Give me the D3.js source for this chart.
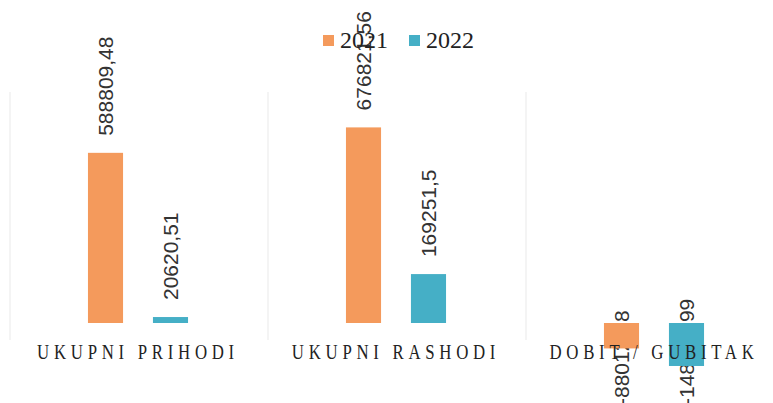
<!DOCTYPE html>
<html>
<head>
<meta charset="utf-8">
<script src="https://cdn.jsdelivr.net/npm/d3@7"></script>
<style>
  body { margin: 0; background: #fff; }
  svg { display: block; }
</style>
</head>
<body>
<svg id="chart" width="773" height="403"></svg>
<script>
// data
const categories = ["UKUPNI PRIHODI", "UKUPNI RASHODI", "DOBIT / GUBITAK"];
const series = ["2021", "2022"];
const values2021 = [588809.48, 676821.56, -88012.18];
const values2022 = [20620.51, 169251.5, -148702.99];
const colors = ["#f49a5c", "#45afc6"];

const svg = d3.select("#chart");

// scales
const x0 = d3.scaleBand().domain(categories).range([9, 783]);
const x1 = d3.scaleBand().domain(series)
  .range([0, x0.bandwidth()])
  .paddingInner(0.46)
  .paddingOuter(1.215);
const y = d3.scaleLinear().domain([-200000, 800000]).range([380.8, 91.8]);

const rows = categories.map((c, i) => ({
  cat: c,
  vals: [
    { s: series[0], v: values2021[i], color: colors[0] },
    { s: series[1], v: values2022[i], color: colors[1] }
  ]
}));

// faint vertical separators between categories
const gridX = categories.map(c => x0(c)).concat([x0.range()[1]]);
svg.append("g")
  .selectAll("line")
  .data(gridX)
  .join("line")
  .attr("x1", d => d + 1).attr("x2", d => d + 1)
  .attr("y1", 92).attr("y2", 340)
  .attr("stroke", "#f4f4f4")
  .attr("stroke-width", 2);

const fmt = v => String(v).replace(".", ",");

const groups = svg.append("g")
  .selectAll("g")
  .data(rows)
  .join("g")
  .attr("transform", d => `translate(${x0(d.cat)},0)`);

// value labels (drawn before the bars, the bars cover them)
groups.selectAll("text")
  .data(d => d.vals)
  .join("text")
  .attr("transform", d => {
    const cx = x1(d.s) + x1.bandwidth() / 2;
    const yy = d.v >= 0 ? y(d.v) - 17 : y(0) + 82;
    return `translate(${cx},${yy}) rotate(-90)`;
  })
  .attr("dominant-baseline", "central")
  .attr("font-family", "'Liberation Sans', Arial, sans-serif")
  .attr("font-size", 21)
  .attr("fill", "#333")
  .text(d => fmt(d.v));

groups.selectAll("rect")
  .data(d => d.vals)
  .join("rect")
  .attr("x", d => x1(d.s))
  .attr("width", x1.bandwidth())
  .attr("y", d => y(Math.max(0, d.v)))
  .attr("height", d => Math.abs(y(d.v) - y(0)))
  .attr("fill", d => d.color);

// category axis
const xAxis = svg.append("g")
  .call(d3.axisBottom(x0).tickSize(0));
xAxis.select(".domain").remove();
xAxis.selectAll("text")
  .attr("y", 359)
  .attr("dy", 0)
  .attr("transform", "scale(0.8,1)")
  .attr("font-family", "'Liberation Serif', 'Times New Roman', serif")
  .attr("font-size", 21)
  .attr("letter-spacing", 5.9)
  .attr("fill", "#222");

// legend
const legend = svg.append("g");
const legendX = [323, 409];
series.forEach((s, i) => {
  legend.append("rect")
    .attr("x", legendX[i]).attr("y", 35)
    .attr("width", 11).attr("height", 11)
    .attr("fill", colors[i]);
  legend.append("text")
    .attr("x", legendX[i] + 17).attr("y", 48)
    .attr("font-family", "'Liberation Serif', 'Times New Roman', serif")
    .attr("font-size", 24)
    .attr("fill", "#222")
    .text(s);
});
</script>
</body>
</html>
